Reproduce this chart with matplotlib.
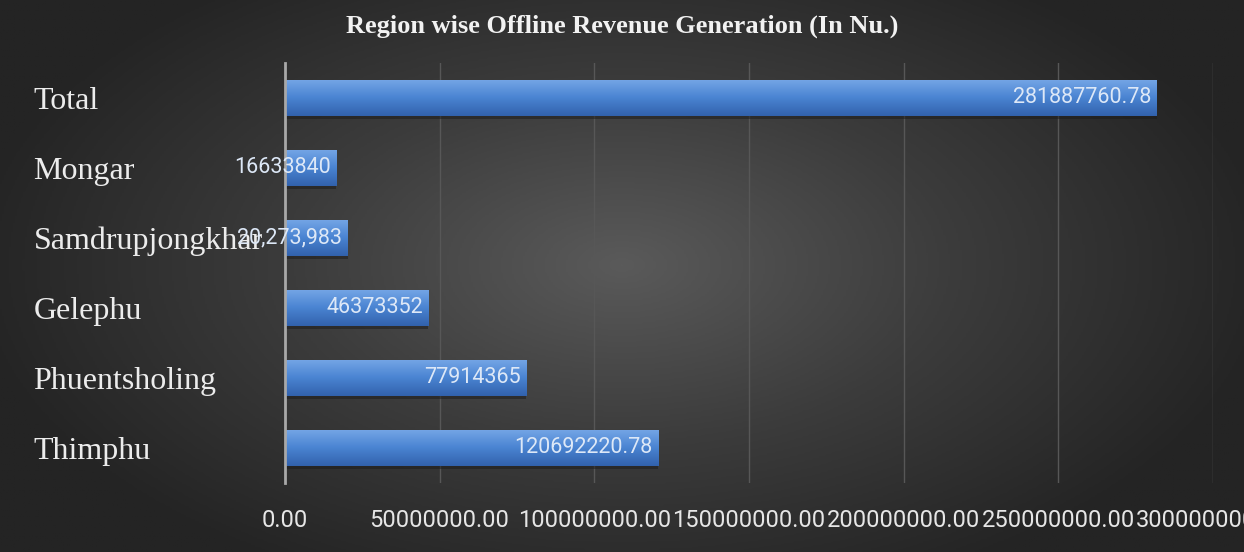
import numpy as np
import matplotlib.pyplot as plt
from matplotlib.colors import LinearSegmentedColormap

# Region wise offline revenue (Nu.)
regions = ["Thimphu", "Phuentsholing", "Gelephu", "Samdrupjongkhar", "Mongar", "Total"]
revenue = [120692220.78, 77914365, 46373352, 20273983, 16633840, 281887760.78]
value_labels = ["120692220.78", "77914365", "46373352", "20,273,983", "16633840", "281887760.78"]
xticks = [0, 50000000, 100000000, 150000000, 200000000, 250000000, 300000000]
xtick_labels = ["0.00", "50000000.00", "100000000.00", "150000000.00",
                "200000000.00", "250000000.00", "300000000.00"]

serif = ["Liberation Serif", "DejaVu Serif"]
narrow = ["Roboto", "DejaVu Sans"]

fig = plt.figure(figsize=(12.44, 5.52), dpi=100)

# radial dark background
bg = fig.add_axes([0, 0, 1, 1], zorder=0)
yy, xx = np.mgrid[0:1:300j, 0:1:600j]
r = np.sqrt(((xx - 0.5) / 0.62) ** 2 + ((yy - 0.48) / 0.75) ** 2)
bg_cmap = LinearSegmentedColormap.from_list("bg", ["#5a5a5a", "#3c3c3c", "#242424"])
bg.imshow(r, cmap=bg_cmap, vmin=0, vmax=0.85, aspect="auto", extent=[0, 1, 0, 1])
bg.axis("off")

ax = fig.add_axes([0.229, 0.125, 0.746, 0.761], zorder=1)
ax.patch.set_visible(False)

bar_h = 0.52
bar_cmap = LinearSegmentedColormap.from_list("bar", ["#3262ad", "#4a84d2", "#75a6e6"])
grad = np.linspace(0, 1, 64).reshape(-1, 1)
ypos = np.arange(len(regions))

bars = ax.barh(ypos, revenue, height=bar_h, color="#4a84d2", zorder=2)
for b, v, y in zip(bars, revenue, ypos):
    # shadow under bar
    ax.barh(y - 0.04, v, height=bar_h, color="#1b1b1b", alpha=0.5, zorder=1.5)
    im = ax.imshow(grad, cmap=bar_cmap, aspect="auto", origin="lower",
                   extent=[0, v, y - bar_h / 2, y + bar_h / 2], zorder=2.5)
    im.set_clip_path(b)

for v, y, lab in zip(revenue, ypos, value_labels):
    ax.annotate(lab, (v, y), xytext=(-4, 0), textcoords="offset points",
                ha="right", va="center", color="#dde8f7", fontsize=15.5,
                family=narrow, zorder=4)

ax.set_xlim(0, 300000000)
ax.set_ylim(-0.5, len(regions) - 0.5)
ax.set_xticks(xticks)
ax.set_xticklabels(xtick_labels, family=narrow, fontsize=17, color="#e6e6e6")
ax.set_yticks(ypos)
ax.set_yticklabels(regions, family=serif, fontsize=23, color="#ececec", ha="left")
ax.tick_params(axis="x", length=0, pad=19)
ax.tick_params(axis="y", length=0, pad=181)

ax.grid(axis="x", color="#575757", linewidth=1, zorder=0)
ax.set_axisbelow(True)
for s in ["top", "right", "bottom"]:
    ax.spines[s].set_visible(False)
ax.spines["left"].set_color("#a8a8a8")
ax.spines["left"].set_linewidth(2)
ax.spines["left"].set_zorder(3)

fig.text(0.5, 0.952, "Region wise Offline Revenue Generation (In Nu.)",
         ha="center", va="center", family=serif, fontsize=19,
         fontweight="bold", color="#f2f2f2", zorder=5)

fig.savefig("out.png", dpi=100)
